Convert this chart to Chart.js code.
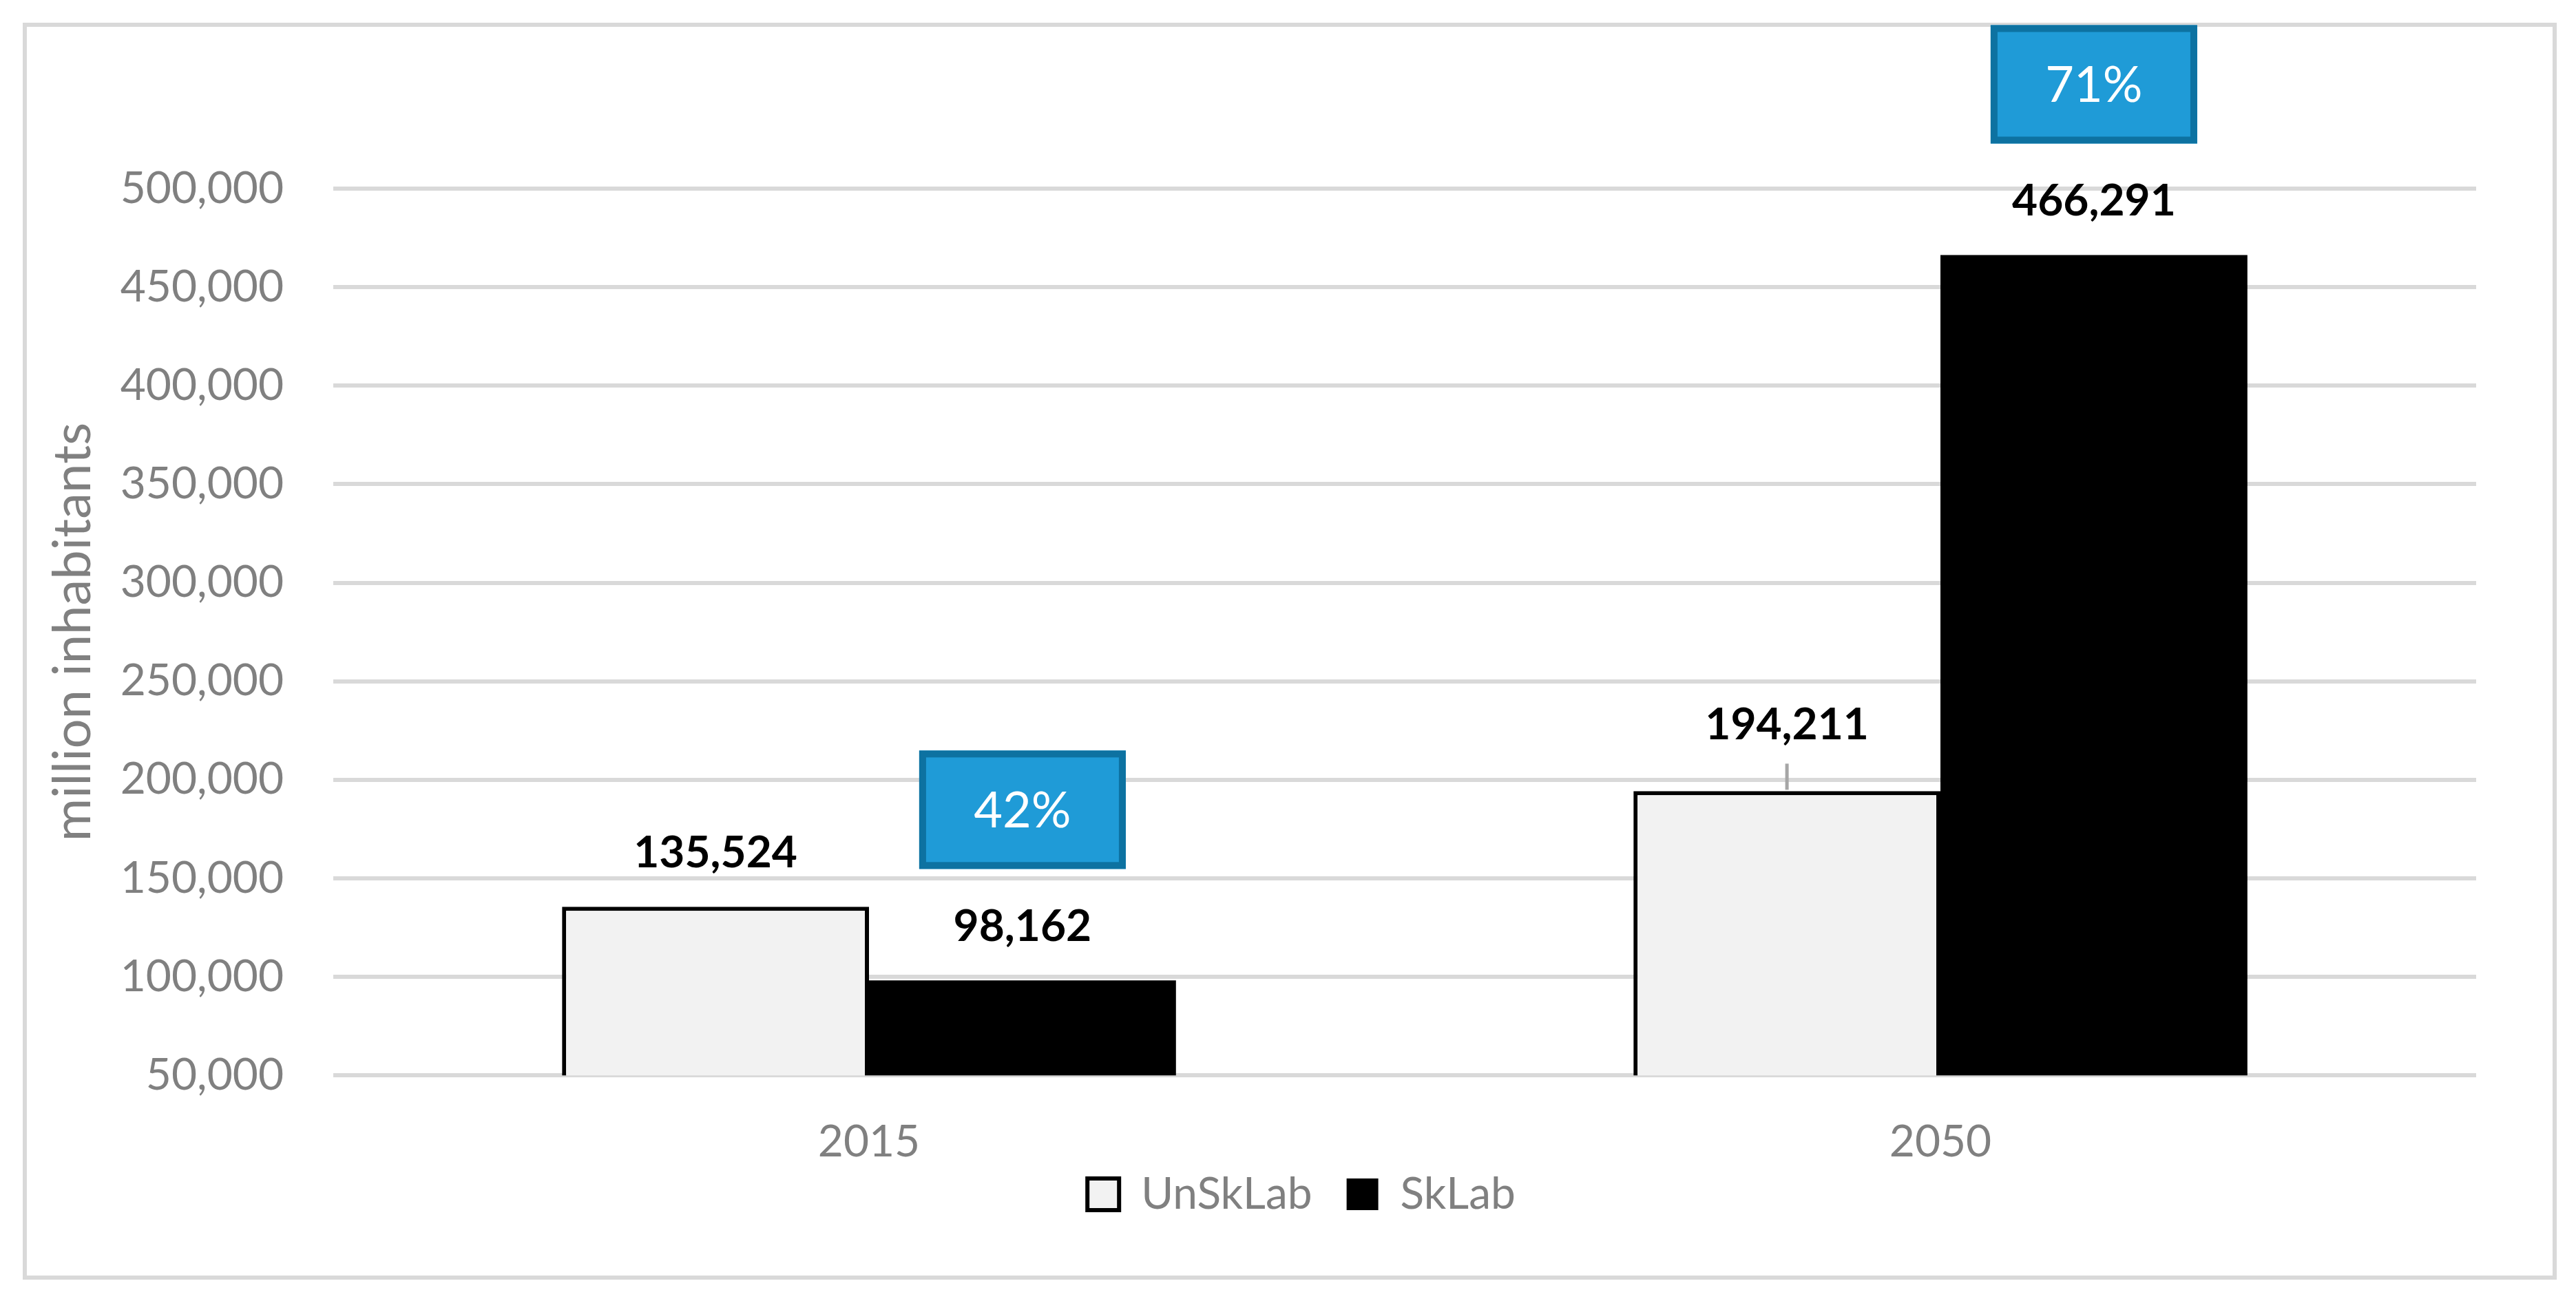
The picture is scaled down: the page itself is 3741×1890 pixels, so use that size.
<!DOCTYPE html>
<html>
<head>
<meta charset="utf-8">
<script src="https://cdn.jsdelivr.net/npm/chart.js@4.4.0/dist/chart.umd.min.js"></script>
<style>
html, body { margin: 0; padding: 0; background: #fff; }
canvas { display: block; }
</style>
</head>
<body>
<canvas id="chart" width="3741" height="1890"></canvas>
<script>
(function () {

// ---------------------------------------------------------------- data

var years = ['2015', '2050'];
var unskilled = [135524, 194211];
var skilled = [98162, 466291];
var yTicks = [50000, 100000, 150000, 200000, 250000, 300000, 350000, 400000, 450000, 500000];
var seriesNames = ['UnSkLab', 'SkLab'];

// ---------------------------------------------------------------- plugins

var GRAY = '#808080';

var framePlugin = {
    id: 'frame',
    beforeDraw: function (chart) {
        var ctx = chart.ctx;
        ctx.save();
        ctx.fillStyle = '#fff';
        ctx.fillRect(0, 0, chart.width, chart.height);
        ctx.strokeStyle = '#d9d9d9';
        ctx.lineWidth = 6;
        ctx.strokeRect(36, 36, 3674, 1820);
        ctx.restore();
    }
};

// pull the legend up closer to the category labels, keeping the wide item gap
var legendNudge = {
    id: 'legendNudge',
    afterLayout: function (chart) {
        var lg = chart.legend;
        if (!lg) return;
        lg.top -= 96;
        lg.bottom -= 96;
    }
};

// bold value labels above each bar
var valueLabels = {
    id: 'valueLabels',
    afterDatasetsDraw: function (chart) {
        var ctx = chart.ctx;
        ctx.save();
        ctx.font = 'bold 64px Lato';
        ctx.fillStyle = '#000';
        ctx.textAlign = 'center';
        ctx.textBaseline = 'middle';
        chart.data.datasets.forEach(function (ds, i) {
            chart.getDatasetMeta(i).data.forEach(function (bar, j) {
                var lift = 78;
                // the 2050 UnSkLab label sits a bit higher, with a leader line
                if (i === 0 && j === 1) {
                    lift = 96;
                    ctx.strokeStyle = '#a6a6a6';
                    ctx.lineWidth = 5;
                    ctx.beginPath();
                    ctx.moveTo(bar.x, bar.y - 40);
                    ctx.lineTo(bar.x, bar.y - 2);
                    ctx.stroke();
                }
                ctx.fillText(ds.data[j].toLocaleString('en-US'), bar.x, bar.y - lift);
            });
        });
        ctx.restore();
    }
};

// blue share boxes over the SkLab bars
var shareBoxes = {
    id: 'shareBoxes',
    afterDraw: function (chart) {
        var ctx = chart.ctx;
        var meta = chart.getDatasetMeta(1);
        ctx.save();
        meta.data.forEach(function (bar, j) {
            var share = Math.round(100 * skilled[j] / (skilled[j] + unskilled[j])) + '%';
            var w = 300, h = 172;
            var left = bar.x - w / 2;
            var top = bar.y - 162 - h;
            ctx.fillStyle = '#1f9bd7';
            ctx.fillRect(left, top, w, h);
            ctx.strokeStyle = '#0d72a1';
            ctx.lineWidth = 10;
            ctx.strokeRect(left + 5, top + 5, w - 10, h - 10);
            ctx.fillStyle = '#fff';
            ctx.font = '72px Lato';
            ctx.textAlign = 'center';
            ctx.textBaseline = 'middle';
            ctx.fillText(share, bar.x, top + h / 2 + 2);
        });
        ctx.restore();
    }
};

// ---------------------------------------------------------------- chart

function draw() {
    Chart.defaults.font.family = 'Lato';

    new Chart(document.getElementById('chart').getContext('2d'), {
        type: 'bar',
        data: {
            labels: years,
            datasets: [{
                label: seriesNames[0],
                data: unskilled,
                backgroundColor: '#f2f2f2',
                borderColor: '#000',
                borderWidth: 6,
                categoryPercentage: 0.573,
                barPercentage: 1.0
            }, {
                label: seriesNames[1],
                data: skilled,
                backgroundColor: '#000',
                borderColor: '#000',
                borderWidth: 0,
                categoryPercentage: 0.573,
                barPercentage: 1.0
            }]
        },
        options: {
            responsive: false,
            animation: false,
            devicePixelRatio: 1,
            layout: { padding: { left: 61, right: 22, top: 274, bottom: 17 } },
            scales: {
                x: {
                    grid: { display: false },
                    border: { display: false },
                    ticks: { color: GRAY, font: { size: 64 }, padding: 51 }
                },
                y: {
                    min: yTicks[0],
                    max: yTicks[yTicks.length - 1],
                    afterBuildTicks: function (axis) {
                        axis.ticks = yTicks.map(function (v) { return { value: v }; });
                    },
                    grid: { color: '#d9d9d9', lineWidth: 6, drawTicks: false },
                    border: { display: false },
                    ticks: {
                        color: GRAY,
                        font: { size: 64 },
                        padding: 72,
                        callback: function (v) { return v.toLocaleString('en-US'); }
                    },
                    title: {
                        display: true,
                        text: 'million inhabitants',
                        color: GRAY,
                        font: { size: 76 },
                        padding: 0
                    },
                    afterFit: function (axis) { axis.width = 484 - 61; }
                },
                y2: {
                    position: 'right',
                    display: true,
                    grid: { display: false },
                    border: { display: false },
                    ticks: { display: false },
                    afterFit: function (axis) { axis.width = 3741 - 22 - 3596; }
                }
            },
            plugins: {
                legend: {
                    position: 'bottom',
                    labels: {
                        color: GRAY,
                        font: { size: 64 },
                        boxWidth: 46,
                        boxHeight: 46,
                        padding: 50
                    }
                },
                tooltip: { enabled: false }
            }
        },
        plugins: [framePlugin, legendNudge, valueLabels, shareBoxes]
    });
}

if (document.fonts && document.fonts.load) {
    Promise.all([
        document.fonts.load('64px Lato'),
        document.fonts.load('bold 64px Lato')
    ]).then(draw, draw);
} else {
    draw();
}

})();
</script>
</body>
</html>
